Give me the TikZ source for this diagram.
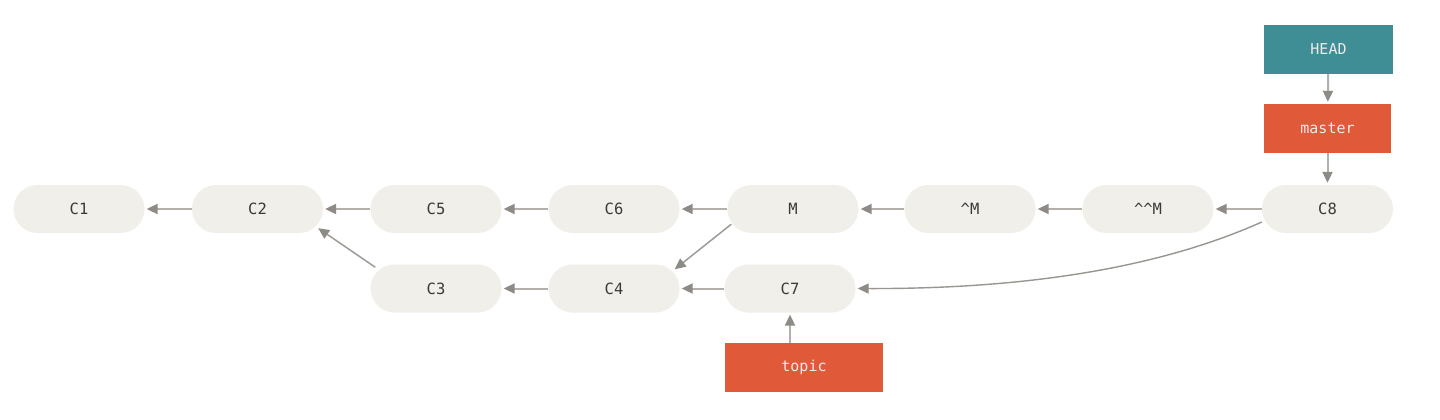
\documentclass[tikz,border=0pt]{standalone}
\usepackage{fontspec}
\setmonofont{DejaVu Sans Mono}
\usetikzlibrary{arrows.meta}
\definecolor{cfill}{HTML}{F0EFE9}
\definecolor{ctext}{HTML}{3A3A3A}
\definecolor{cteal}{HTML}{3F8E96}
\definecolor{corange}{HTML}{E05A3A}
\definecolor{carrow}{HTML}{B3AFA9}
\definecolor{ctip}{HTML}{8E8A85}
\begin{document}
\begin{tikzpicture}[x=1pt,y=-1pt,
  commit/.style={draw=none,fill=cfill,rounded corners=24pt,minimum width=131pt,minimum height=48pt,inner sep=0pt,text=ctext,font=\ttfamily\fontsize{15.5}{18}\selectfont},
  refbox/.style={draw=none,minimum height=49pt,inner sep=0pt,text=white!92!black,font=\ttfamily\fontsize{15}{18}\selectfont},
  link/.style={draw=carrow,line width=2pt,-{Triangle[length=11pt,width=10pt,color=ctip]},shorten >=2pt}]
\useasboundingbox (0,0) rectangle (1440,420);
\fill[white] (0,0) rectangle (1440,420);
% top row
\node[commit] (C1) at (79,209) {C1};
\node[commit] (C2) at (257.5,209) {C2};
\node[commit] (C5) at (436,209) {C5};
\node[commit] (C6) at (614,209) {C6};
\node[commit] (M) at (793,209) {M};
\node[commit] (M1) at (970,209) {\textasciicircum M};
\node[commit] (M2) at (1148,209) {\textasciicircum\textasciicircum M};
\node[commit] (C8) at (1327.5,209) {C8};
% bottom row
\node[commit] (C3) at (436,288.5) {C3};
\node[commit] (C4) at (614,288.5) {C4};
\node[commit] (C7) at (790,288.5) {C7};
% refs
\node[refbox,fill=cteal,minimum width=129pt] (HEAD) at (1328.5,49.5) {HEAD};
\node[refbox,fill=corange,minimum width=127pt] (master) at (1327.5,128.5) {master};
\node[refbox,fill=corange,minimum width=158pt] (topic) at (804,367.5) {topic};
% links
\draw[link] (C2) -- (C1);
\draw[link] (C5) -- (C2);
\draw[link] (C6) -- (C5);
\draw[link] (M) -- (C6);
\draw[link] (M1) -- (M);
\draw[link] (M2) -- (M1);
\draw[link] (C8) -- (M2);
\draw[link] (C4) -- (C3);
\draw[link] (C7) -- (C4);
\draw[link,line width=1.5pt,draw=ctip!85!white,shorten >=0pt] ([xshift=5pt,yshift=-3pt]C3.north west) -- ([xshift=-5pt,yshift=5pt]C2.south east);
\draw[link,line width=1.5pt,draw=ctip!85!white,shorten >=0pt] ([xshift=4pt,yshift=9pt]M.south west) -- ([xshift=-5pt,yshift=-5pt]C4.north east);
\draw[link,line width=1.4pt,draw=ctip!90!white] ([yshift=-13pt]C8.west) .. controls (1150,272) and (1010,289) .. (C7.east);
\draw[link] (HEAD) -- (master);
\draw[link] (master) -- (C8);
\draw[link] (topic.north -| C7.south) -- (C7.south);
\end{tikzpicture}
\end{document}
